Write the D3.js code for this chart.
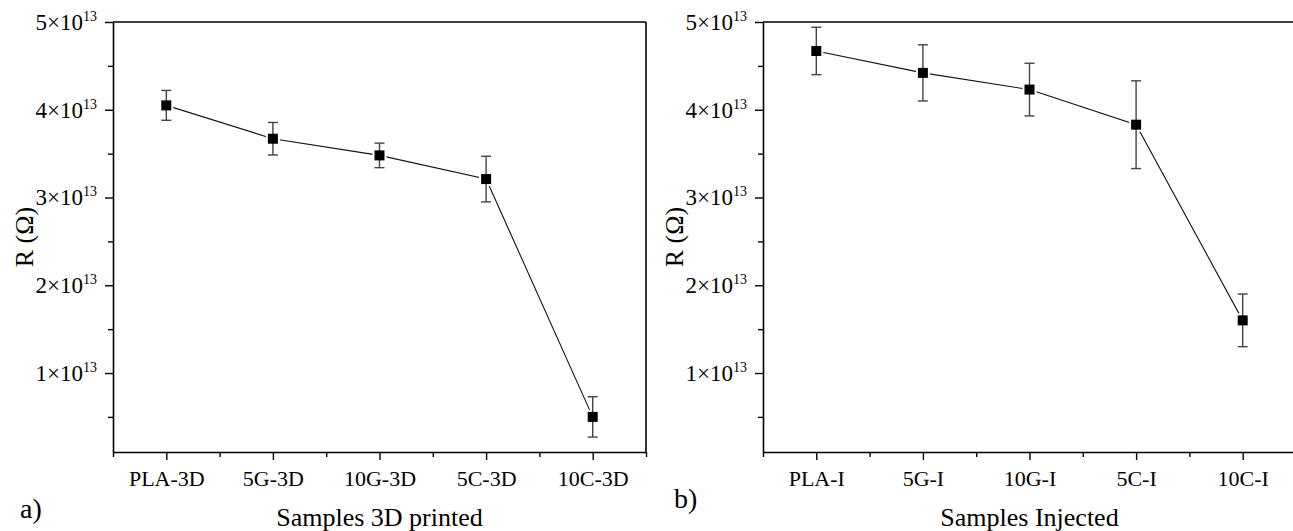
<!DOCTYPE html>
<html lang="en">
<head>
  <meta charset="UTF-8">
  <title>Resistance of samples</title>
  <script src="https://d3js.org/d3.v7.min.js"></script>
  <style>
    body {
      margin: 0;
      background-color: #ffffff;
      font-family: "Liberation Serif", "Times New Roman", serif;
    }
    svg text {
      fill: #000;
      font-family: "Liberation Serif", "Times New Roman", serif;
    }
  </style>
</head>
<body>
  <svg id="chart" width="1293" height="531"></svg>

  <script>
    // panel a) 3D printed samples
    const categoriesA = ["PLA-3D", "5G-3D", "10G-3D", "5C-3D", "10C-3D"];
    const valuesA = [4.05e13, 3.67e13, 3.48e13, 3.21e13, 0.50e13];
    const errorsA = [0.17e13, 0.185e13, 0.14e13, 0.26e13, 0.23e13];

    // panel b) injected samples
    const categoriesB = ["PLA-I", "5G-I", "10G-I", "5C-I", "10C-I"];
    const valuesB = [4.67e13, 4.42e13, 4.23e13, 3.83e13, 1.60e13];
    const errorsB = [0.27e13, 0.32e13, 0.30e13, 0.50e13, 0.30e13];

    const yMajorTicks = [1e13, 2e13, 3e13, 4e13, 5e13];
    const yMinorTicks = [0.5e13, 1.5e13, 2.5e13, 3.5e13, 4.5e13];
    const yDomain = [0.1e13, 5e13];

    const svg = d3.select("#chart");

    function drawPanel(opts) {
      const { left, right, top, bottom, categories, values, errors, xTitle, letter, letterX, letterY, yTitleX } = opts;

      const x = d3.scaleLinear().domain([0.5, categories.length + 0.5]).range([left, right]);
      const y = d3.scaleLinear().domain(yDomain).range([bottom, top]);

      const g = svg.append("g");

      // frame: top and right sides
      g.append("line").attr("x1", left).attr("x2", right).attr("y1", top).attr("y2", top)
        .attr("stroke", "#000").attr("stroke-width", 1.6);
      g.append("line").attr("x1", right).attr("x2", right).attr("y1", top).attr("y2", bottom)
        .attr("stroke", "#000").attr("stroke-width", 1.6);

      // y axis, minor then major
      const yMinor = g.append("g").attr("transform", `translate(${left},0)`)
        .call(d3.axisLeft(y).tickValues(yMinorTicks).tickSize(5).tickSizeOuter(0).tickFormat(""));
      yMinor.select(".domain").remove();
      yMinor.selectAll(".tick line").attr("stroke-width", 1.4);

      const yAxis = g.append("g").attr("transform", `translate(${left},0)`)
        .call(d3.axisLeft(y).tickValues(yMajorTicks).tickSize(8).tickSizeOuter(0).tickPadding(8));
      yAxis.select(".domain").attr("stroke-width", 1.6);
      yAxis.selectAll(".tick line").attr("stroke-width", 1.4);
      yAxis.selectAll(".tick text")
        .attr("font-size", 23)
        .attr("dy", "0.32em")
        .each(function (d) {
          const t = d3.select(this).text(null);
          t.append("tspan").text(`${Math.round(d / 1e13)}×10`);
          t.append("tspan").attr("dy", -9).attr("font-size", 14).text("13");
        });

      // x axis, minor then major
      const xMinor = g.append("g").attr("transform", `translate(0,${bottom})`)
        .call(d3.axisBottom(x).tickValues(d3.range(0.5, categories.length + 1, 1)).tickSize(5).tickSizeOuter(0).tickFormat(""));
      xMinor.select(".domain").remove();
      xMinor.selectAll(".tick line").attr("stroke-width", 1.4);

      const xAxis = g.append("g").attr("transform", `translate(0,${bottom})`)
        .call(d3.axisBottom(x).tickValues(d3.range(1, categories.length + 1))
          .tickSize(8).tickSizeOuter(0).tickPadding(10)
          .tickFormat(i => categories[i - 1]));
      xAxis.select(".domain").attr("stroke-width", 1.6);
      xAxis.selectAll(".tick line").attr("stroke-width", 1.4);
      xAxis.selectAll(".tick text").attr("font-size", 22);

      // axis titles
      g.append("text")
        .attr("x", (left + right) / 2)
        .attr("y", 526)
        .attr("text-anchor", "middle")
        .attr("font-size", 26)
        .text(xTitle);

      g.append("text")
        .attr("transform", `translate(${yTitleX},${(top + bottom) / 2}) rotate(-90)`)
        .attr("text-anchor", "middle")
        .attr("font-size", 26)
        .text("R (Ω)");

      g.append("text")
        .attr("x", letterX)
        .attr("y", letterY)
        .attr("font-size", 28)
        .text(letter);

      const pts = values.map((v, i) => ({ cx: x(i + 1), cy: y(v), lo: y(v - errors[i]), hi: y(v + errors[i]) }));

      // connecting line
      g.append("path")
        .datum(pts)
        .attr("fill", "none")
        .attr("stroke", "#111")
        .attr("stroke-width", 1.1)
        .attr("d", d3.line().x(d => d.cx).y(d => d.cy));

      // white gap around markers
      g.selectAll(".gap").data(pts).enter().append("rect")
        .attr("x", d => d.cx - 7).attr("y", d => d.cy - 7)
        .attr("width", 14).attr("height", 14)
        .attr("fill", "#fff");

      // error bars
      const eb = g.selectAll(".err").data(pts).enter().append("g").attr("stroke", "#444").attr("stroke-width", 1.4);
      eb.append("line").attr("x1", d => d.cx).attr("x2", d => d.cx).attr("y1", d => d.lo).attr("y2", d => d.hi);
      eb.append("line").attr("x1", d => d.cx - 5).attr("x2", d => d.cx + 5).attr("y1", d => d.lo).attr("y2", d => d.lo);
      eb.append("line").attr("x1", d => d.cx - 5).attr("x2", d => d.cx + 5).attr("y1", d => d.hi).attr("y2", d => d.hi);

      // markers
      g.selectAll(".marker").data(pts).enter().append("rect")
        .attr("x", d => d.cx - 5).attr("y", d => d.cy - 5)
        .attr("width", 10).attr("height", 10)
        .attr("fill", "#000");
    }

    drawPanel({
      left: 113, right: 646, top: 22, bottom: 452,
      categories: categoriesA, values: valuesA, errors: errorsA,
      xTitle: "Samples 3D printed", letter: "a)", letterX: 20, letterY: 518, yTitleX: 33
    });

    drawPanel({
      left: 763, right: 1296, top: 22, bottom: 452,
      categories: categoriesB, values: valuesB, errors: errorsB,
      xTitle: "Samples Injected", letter: "b)", letterX: 674, letterY: 508, yTitleX: 683
    });
  </script>
</body>
</html>
